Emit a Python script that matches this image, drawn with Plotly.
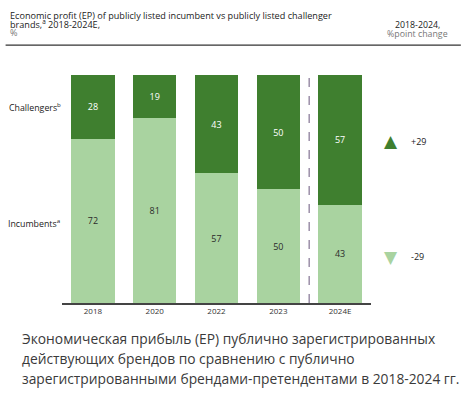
import plotly.graph_objects as go

years = ["2018", "2020", "2022", "2023", "2024E"]
incumbents = [72, 81, 57, 50, 43]
challengers = [28, 19, 43, 50, 57]
change_challengers = "+29"
change_incumbents = "-29"

DARK = "#3f7f2f"
LIGHT = "#a9d3a0"
FONT = "Open Sans"

# plot area in pixels
L, T, W, H = 61.5, 74.5, 309.5, 229
def px(x):
    return (x - L) / W
def py(y):
    return (T + H - y) / H

fig = go.Figure()
fig.add_trace(go.Bar(
    x=years, y=incumbents, name="Incumbents",
    marker=dict(color=LIGHT, line=dict(width=0)),
    text=[str(v) for v in incumbents], textposition="inside",
    insidetextanchor="middle", textangle=0,
    textfont=dict(color="#2b2b2b", size=9, family=FONT),
))
fig.add_trace(go.Bar(
    x=years, y=challengers, name="Challengers",
    marker=dict(color=DARK, line=dict(width=0)),
    text=[str(v) for v in challengers], textposition="inside",
    insidetextanchor="middle", textangle=0,
    textfont=dict(color="white", size=9, family=FONT),
))

ann = []
# header
title_lines = [
    ("Economic profit (EP) of publicly listed incumbent vs publicly listed challenger", "#222"),
    ("brands,<sup>a</sup> 2018-2024E,", "#222"),
    ("%", "#777"),
]
for i, (t, c) in enumerate(title_lines):
    ann.append(dict(text=t, x=px(7), y=py(14.5 + 8.8 * i), xref="paper", yref="paper",
                    xanchor="left", yanchor="middle", showarrow=False,
                    font=dict(size=9.1, color=c, family=FONT)))
ann.append(dict(text="2018-2024,", x=px(418), y=py(24), xref="paper", yref="paper",
                xanchor="center", yanchor="middle", showarrow=False,
                font=dict(size=8.8, color="#222", family=FONT)))
ann.append(dict(text="%point change", x=px(418), y=py(33), xref="paper", yref="paper",
                xanchor="center", yanchor="middle", showarrow=False,
                font=dict(size=8.8, color="#777", family=FONT)))
# row labels
ann.append(dict(text="Challengers<sup>b</sup>", x=px(63), y=py(107), xref="paper", yref="paper",
                xanchor="right", yanchor="middle", showarrow=False,
                font=dict(size=8.8, color="#222", family=FONT)))
ann.append(dict(text="Incumbents<sup>a</sup>", x=px(62), y=py(223), xref="paper", yref="paper",
                xanchor="right", yanchor="middle", showarrow=False,
                font=dict(size=8.8, color="#222", family=FONT)))
# change markers
ann.append(dict(text="▲", x=px(391), y=py(141), xref="paper", yref="paper",
                xanchor="center", yanchor="middle", showarrow=False,
                font=dict(size=17, color=DARK, family="DejaVu Sans")))
ann.append(dict(text="▼", x=px(391), y=py(257), xref="paper", yref="paper",
                xanchor="center", yanchor="middle", showarrow=False,
                font=dict(size=17, color=LIGHT, family="DejaVu Sans")))
ann.append(dict(text=change_challengers, x=px(409), y=py(141), xref="paper", yref="paper",
                xanchor="left", yanchor="middle", showarrow=False,
                font=dict(size=9, color="#222", family=FONT)))
ann.append(dict(text=change_incumbents, x=px(409), y=py(257), xref="paper", yref="paper",
                xanchor="left", yanchor="middle", showarrow=False,
                font=dict(size=9, color="#222", family=FONT)))
# caption
caption = [
    "Экономическая прибыль (ЕР) публично зарегистрированных",
    "действующих брендов по сравнению с публично",
    "зарегистрированными брендами-претендентами в 2018-2024 гг.",
]
for i, t in enumerate(caption):
    ann.append(dict(text=t, x=px(19), y=py(339 + 20 * i), xref="paper", yref="paper",
                    xanchor="left", yanchor="middle", showarrow=False,
                    font=dict(size=13.8, color="#3a3a3a", family="Open Sans")))

shapes = [
    dict(type="line", xref="paper", yref="paper", x0=px(5), x1=px(461), y0=py(44.5), y1=py(44.5),
         line=dict(color="#333", width=1.2)),
    dict(type="line", xref="x", yref="paper", x0=3.5, x1=3.5, y0=0, y1=1.0,
         line=dict(color="#9c8fa8", width=1.5, dash="dash")),
]

fig.update_layout(
    barmode="stack", bargap=0.3,
    width=471, height=397,
    margin=dict(l=L, r=471 - L - W, t=T, b=397 - T - H, pad=0),
    paper_bgcolor="white", plot_bgcolor="white",
    showlegend=False,
    annotations=ann, shapes=shapes,
    font=dict(family=FONT),
    xaxis=dict(type="category", range=[-0.5, 4.5], showline=True, linecolor="#444",
               linewidth=1.5, ticks="", tickfont=dict(size=8, color="#333", family=FONT),
               showgrid=False, fixedrange=True),
    yaxis=dict(range=[0, 100], visible=False, showgrid=False, fixedrange=True),
)

fig.write_html("out.html", config={"displayModeBar": False},
               post_script="document.body.style.margin='0';document.body.style.overflow='hidden';")
